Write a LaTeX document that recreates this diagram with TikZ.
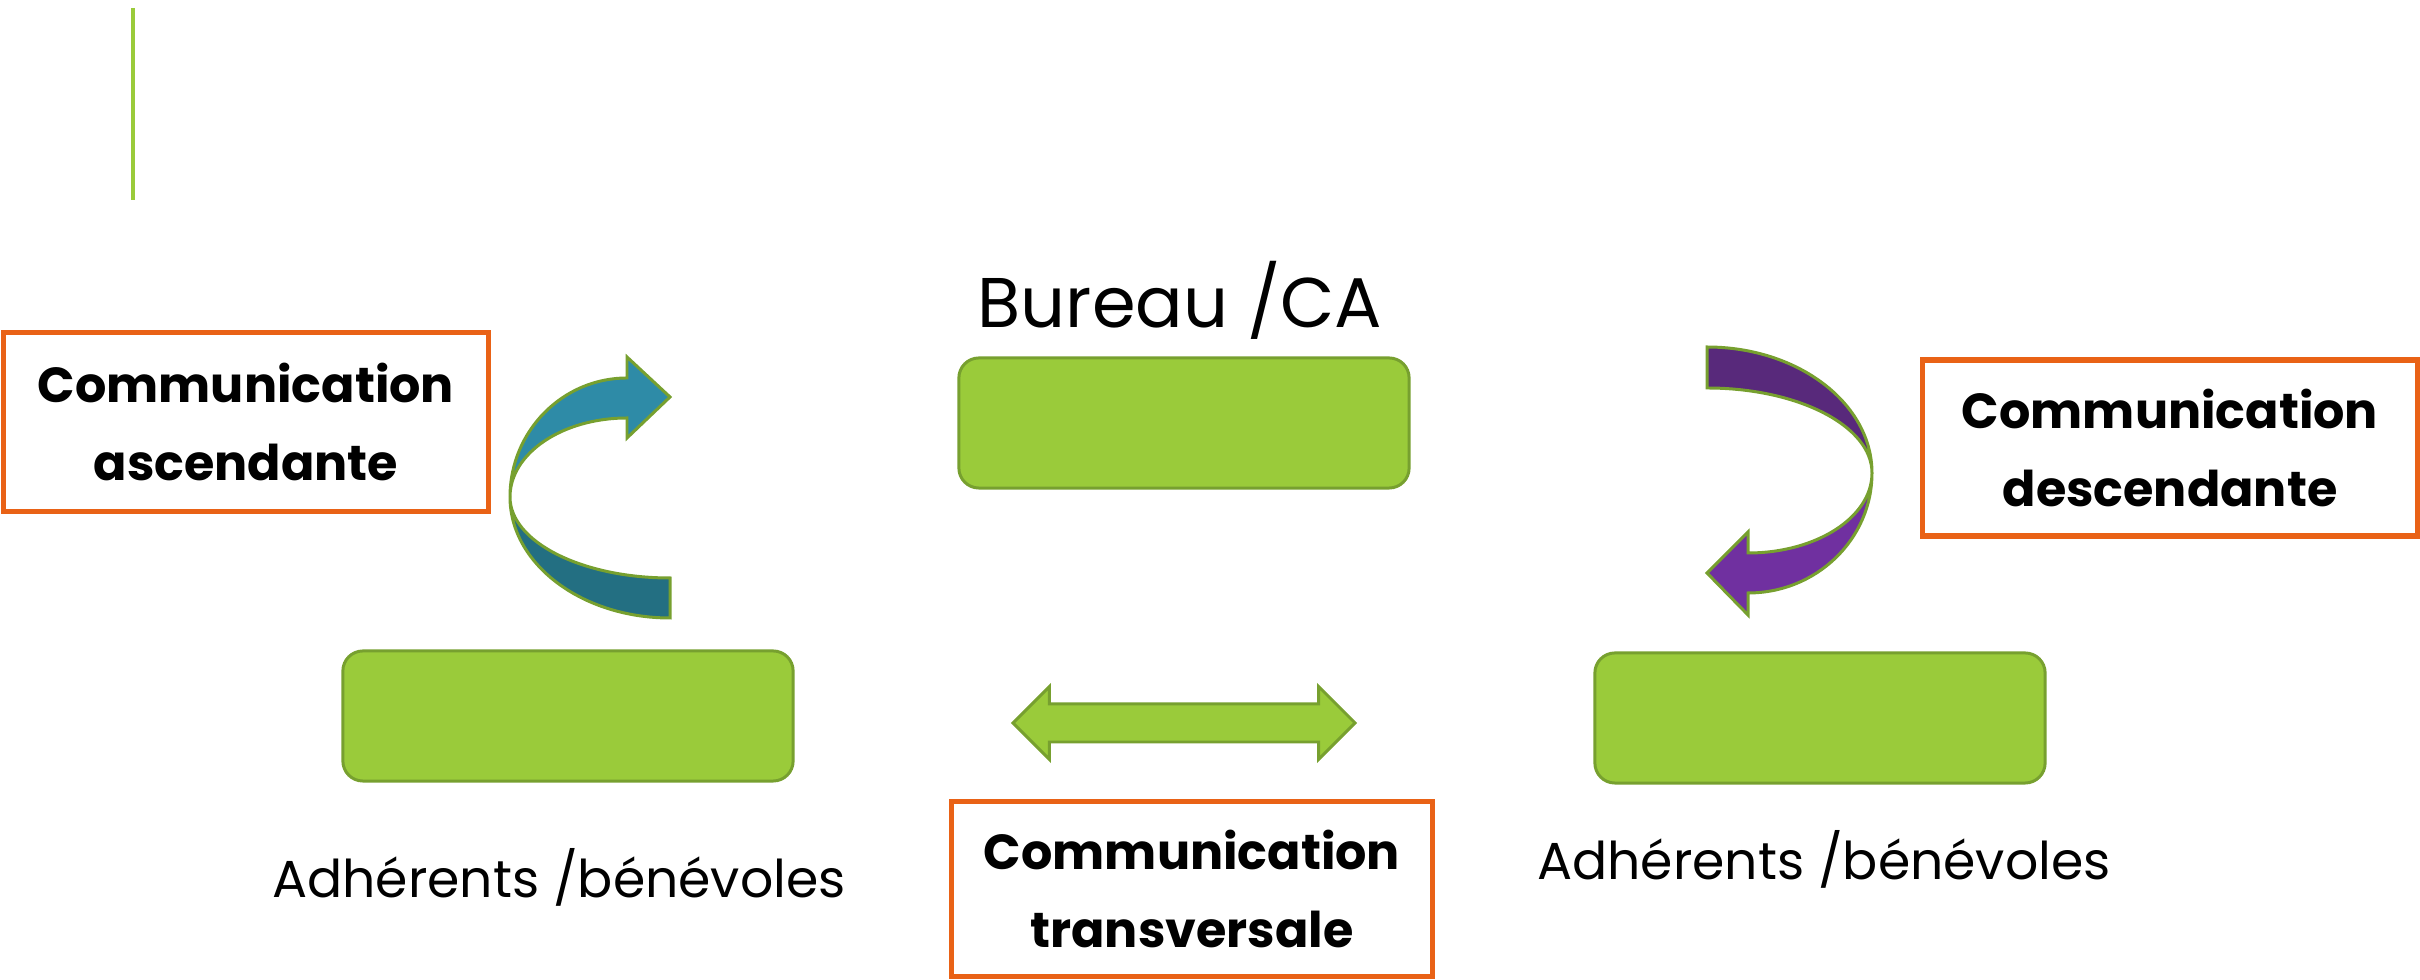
\documentclass[tikz,border=0pt]{standalone}
\usepackage{fontspec}
\setmainfont{Poppins}
\usetikzlibrary{shapes.arrows}
\definecolor{vert}{RGB}{154,203,58}
\definecolor{vertfonce}{RGB}{119,160,47}
\definecolor{orangecadre}{RGB}{233,98,22}
\definecolor{bleuclair}{RGB}{46,139,167}
\definecolor{bleufonce}{RGB}{35,111,130}
\definecolor{violetfonce}{RGB}{88,41,123}
\definecolor{violetclair}{RGB}{112,48,160}

\begin{document}
\begin{tikzpicture}[x=0.01cm, y=-0.01cm,
    bloc/.style={draw=vertfonce, fill=vert, line width=0.85pt, rounded corners=0.2cm,
        minimum width=4.5cm, minimum height=1.3cm},
    cadre/.style={draw=orangecadre, line width=1.5pt, align=center, inner sep=0pt,
        font=\bfseries\fontsize{14}{22}\selectfont},
    legende/.style={anchor=base, inner sep=0pt, font=\fontsize{14.8}{18}\selectfont},
    fleche/.style={draw=vertfonce, line width=0.85pt}]
    \useasboundingbox (0,0) rectangle (2420,980);

    % Trait vert
    \draw[vert, line width=1.1pt] (133,8) -- (133,200);

    % Blocs
    \node[bloc] (bureau) at (1184,423) {};
    \node[bloc] (adhg) at (568,716) {};
    \node[bloc] (adhd) at (1820,718) {};

    % Legendes
    \node[legende, font=\fontsize{20}{24}\selectfont] (lbureau) at (1180,328) {Bureau /CA};
    \node[legende] (ladhg) at (559,898) {Adhérents /bénévoles};
    \node[legende] (ladhd) at (1824,880) {Adhérents /bénévoles};

    % Cadres
    \node[cadre, minimum width=4.84cm, minimum height=1.79cm] (asc) at (246,422) {Communication\\ascendante};
    \node[cadre, minimum width=4.95cm, minimum height=1.76cm] (desc) at (2170,448) {Communication\\descendante};
    \node[cadre, minimum width=4.81cm, minimum height=1.75cm] (transv) at (1192,889) {Communication\\transversale};

    % Fleche double
    \node[fleche, fill=vert, shape=double arrow, minimum height=3.42cm, inner xsep=0pt,
        inner ysep=0.175cm, double arrow head extend=0.175cm] (lateral) at (1184,723) {};

    % Fleche montante
    \draw[fleche, fill=bleufonce] (510,497) arc[start angle=180, end angle=90, x radius=160, y radius=121]
        -- (670,578) arc[start angle=90, end angle=180, x radius=160, y radius=81] -- cycle;
    \draw[fleche, fill=bleuclair] (510,497) arc[start angle=180, end angle=270, x radius=117, y radius=119]
        -- (627,357) -- (670,397) -- (627,438) -- (627,418)
        arc[start angle=270, end angle=180, x radius=117, y radius=79] -- cycle;

    % Fleche descendante
    \draw[fleche, fill=violetfonce] (1707,347) arc[start angle=270, end angle=360, x radius=165, y radius=126]
        arc[start angle=0, end angle=-90, x radius=165, y radius=85] -- cycle;
    \draw[fleche, fill=violetclair] (1872,473) arc[start angle=0, end angle=90, x radius=124, y radius=120]
        -- (1748,615) -- (1707,573) -- (1748,532) -- (1748,553)
        arc[start angle=90, end angle=0, x radius=124, y radius=80] -- cycle;
\end{tikzpicture}
\end{document}
